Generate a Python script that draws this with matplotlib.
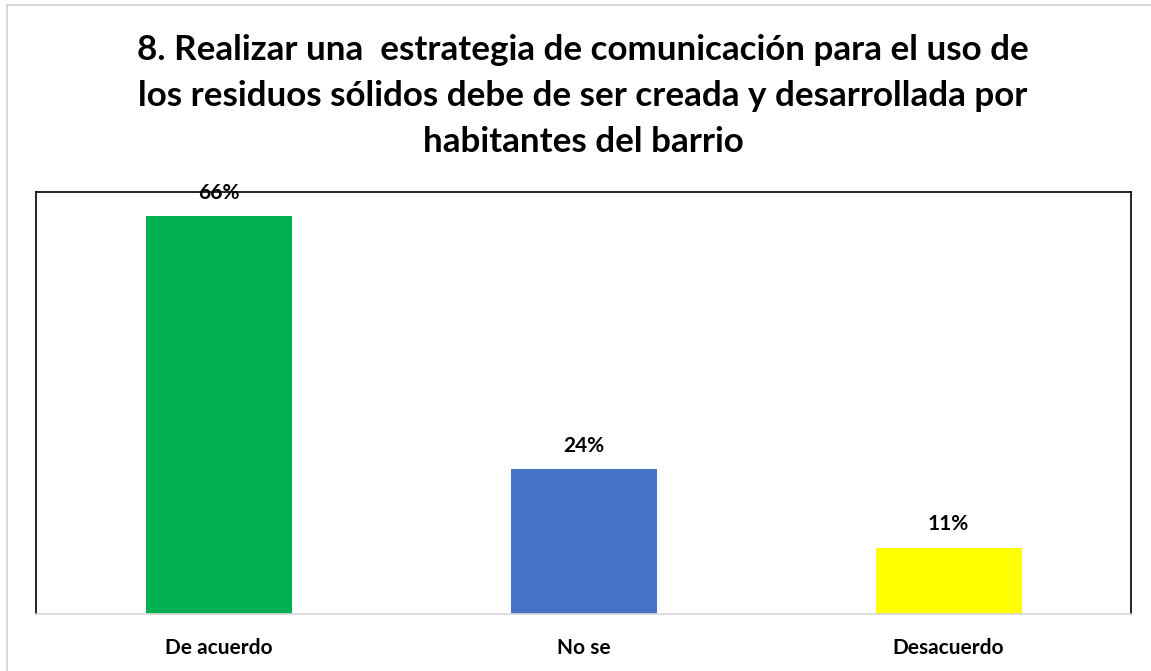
import matplotlib.pyplot as plt
from matplotlib.patches import Rectangle

categories = ['De acuerdo', 'No se', 'Desacuerdo']
values = [66, 24, 11]
labels = ['66%', '24%', '11%']
colors = ['#00B050', '#4472C4', '#FFFF00']

title = ('8. Realizar una  estrategia de comunicación para el uso de\n'
         'los residuos sólidos debe de ser creada y desarrollada por\n'
         'habitantes del barrio')

plt.rcParams['font.family'] = ['Lato', 'DejaVu Sans']

W, H = 1151, 671
fig = plt.figure(figsize=(W / 100, H / 100), dpi=100)

# light gray frame around the whole chart
fig.patches.append(Rectangle((7 / W, -0.1), 1.2, 1 - 4.5 / H + 0.1,
                             transform=fig.transFigure, fill=False,
                             edgecolor='#D9D9D9', linewidth=1.5))

ax = fig.add_axes([36 / W, 1 - 614 / H, (1131 - 36) / W, (614 - 192) / H])
x = range(len(categories))
ax.bar(x, values, width=0.4, color=colors, zorder=2)
ax.set_xlim(-0.5, 2.5)
ax.set_ylim(0, 70)

for i, (v, lab) in enumerate(zip(values, labels)):
    ax.text(i, v + 3.9, lab, ha='center', va='center', fontsize=15,
            fontweight='bold', zorder=3)

ax.set_xticks(list(x))
ax.set_xticklabels(categories, fontsize=15, fontweight='bold')
ax.tick_params(axis='x', length=0, pad=17)
ax.set_yticks([])
for s in ['left', 'top', 'right']:
    ax.spines[s].set_color('black')
    ax.spines[s].set_linewidth(1.2)
ax.spines['bottom'].set_color('#D9D9D9')
ax.spines['bottom'].set_linewidth(1.2)

fig.text(583 / W, 1 - 96 / H, title, ha='center', va='center', fontsize=25.2,
         fontweight='bold', linespacing=1.55)

fig.savefig('out.png', dpi=100)
